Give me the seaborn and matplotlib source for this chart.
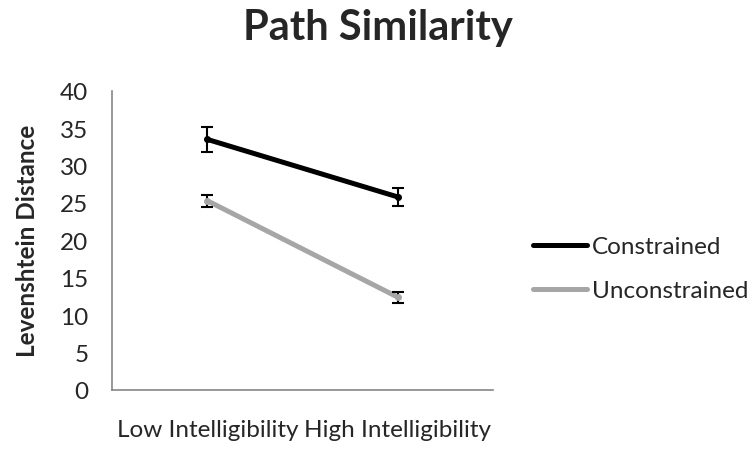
import numpy as np
import pandas as pd
import matplotlib
matplotlib.use('Agg')
import matplotlib.pyplot as plt
import seaborn as sns

# data
conditions = ['Low Intelligibility', 'High Intelligibility']
constrained = [33.5, 25.8]
constrained_err = [1.7, 1.2]
unconstrained = [25.3, 12.4]
unconstrained_err = [0.8, 0.75]
series_names = ['Constrained', 'Unconstrained']

df = pd.DataFrame({
    'condition': conditions * 2,
    'distance': constrained + unconstrained,
    'err': constrained_err + unconstrained_err,
    'group': [series_names[0]] * 2 + [series_names[1]] * 2,
})

sns.set_style('white')
plt.rcParams['font.family'] = ['Lato', 'DejaVu Sans']

fig = plt.figure(figsize=(7.55, 4.52), dpi=100)
ax = fig.add_axes([0.1483, 0.135, 0.505, 0.662])

palette = {'Constrained': '#000000', 'Unconstrained': '#a6a6a6'}
sns.lineplot(data=df, x='condition', y='distance', hue='group', palette=palette,
             linewidth=3.6, ax=ax, sort=False, solid_capstyle='round')

# error bars
for name in series_names:
    sub = df[df['group'] == name]
    ax.errorbar(np.arange(len(sub)), sub['distance'], yerr=sub['err'], fmt='o',
                color='black', mfc=palette[name], mec=palette[name], markersize=4,
                elinewidth=1.5, capsize=4, capthick=1.5, zorder=3)

ax.set_ylim(0, 40)
ax.set_yticks(np.arange(0, 41, 5))
ax.set_xlim(-0.5, 1.5)
ax.set_xticks([-0.5, 0.5, 1.5])
ax.set_xticklabels([])
ax.set_xticks([0, 1], minor=True)
ax.set_xticklabels(conditions, minor=True)
ax.tick_params(axis='x', which='minor', length=0, pad=21, labelsize=17.5)
ax.tick_params(axis='x', which='major', direction='out', length=6, color='#868686', width=1)
ax.tick_params(axis='y', direction='out', length=6, color='#868686', width=1,
               labelsize=17.5, pad=11)

for s in ['top', 'right']:
    ax.spines[s].set_visible(False)
for s in ['left', 'bottom']:
    ax.spines[s].set_color('#868686')
    ax.spines[s].set_linewidth(1.2)

ax.set_xlabel('')
ax.set_ylabel('Levenshtein Distance', fontsize=17.5, fontweight='bold', labelpad=15)
fig.text(0.5, 0.9115, 'Path Similarity', ha='center', va='baseline', fontsize=30,
         fontweight='bold')

leg = ax.legend(loc='center left', bbox_to_anchor=(1.105, 0.405), frameon=False,
                fontsize=17.5, handlelength=2.2, handletextpad=0.2, labelspacing=0.95,
                borderpad=0, borderaxespad=0)
for line in leg.get_lines():
    line.set_linewidth(3.6)

fig.savefig('out.png', dpi=100)
